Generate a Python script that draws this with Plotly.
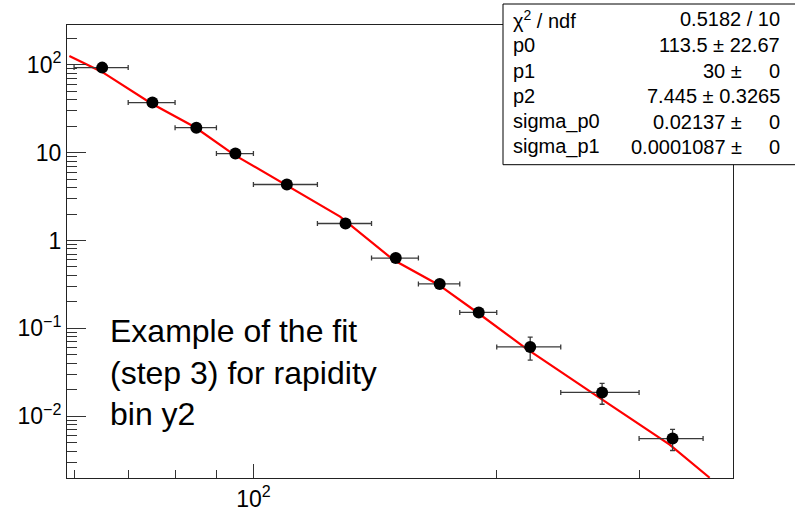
import plotly.graph_objects as go

# ---- data ----
bin_edges = [60, 70, 80, 90, 100, 120, 140, 160, 180, 200, 240, 300, 360]
y_values = [92.5, 37.0, 19.2, 9.74, 4.33, 1.56, 0.631, 0.320, 0.152, 0.0615, 0.0187, 0.00558]
y_errors = [3.0, 1.3, 0.7, 0.35, 0.16, 0.06, 0.026, 0.014, 0.009, 0.018, 0.005, 0.0015]

fit_x = [59.2, 64.9, 74.7, 84.7, 94.7, 108.6, 128.0, 148.9, 169.4, 189.6, 216.9, 263.3, 327.3, 366.8]
fit_y = [125.6, 83.2, 36.4, 19.4, 9.42, 4.49, 1.87, 0.604, 0.314, 0.1496, 0.0599, 0.0181, 0.00477, 0.0020]

y_tickvals = [0.01, 0.1, 1, 10, 100]
y_ticktext = ["10<sup>−2</sup>", "10<sup>−1</sup>", "1", "10", "10<sup>2</sup>"]
x_tickvals = [100]
x_ticktext = ["10<sup>2</sup>"]

stats_labels = ["χ<sup>2</sup> / ndf", "p0", "p1", "p2", "sigma_p0", "sigma_p1"]
stats_values = ["0.5182 / 10", "113.5 ± 22.67", "30 ±", "7.445 ± 0.3265", "0.02137 ±", "0.0001087 ±"]
stats_zero = [False, False, True, False, True, True]

note_text = "Example of the fit<br>(step 3) for rapidity<br>bin y2"

# ---- derived ----
x_centers = [(bin_edges[i] + bin_edges[i + 1]) / 2 for i in range(len(bin_edges) - 1)]
err_plus = [bin_edges[i + 1] - x_centers[i] for i in range(len(x_centers))]
err_minus = [x_centers[i] - bin_edges[i] for i in range(len(x_centers))]

y_minor = []
for e in range(-3, 3):
    for m in range(2, 10):
        y_minor.append(m * 10 ** e)
x_minor = [60, 70, 80, 90, 200, 300]

W, H = 795, 518
L, R, T, B = 67, 62, 25, 40
PW = W - L - R
PH = H - T - B


def px(xp):
    return (xp - L) / PW


def py(yp):
    return (H - B - yp) / PH


FONT = "Liberation Sans, Arial, sans-serif"

fig = go.Figure()
fig.add_trace(go.Scatter(
    x=fit_x, y=fit_y, mode="lines",
    line=dict(color="#ff0000", width=2.2),
    hoverinfo="skip", showlegend=False))
fig.add_trace(go.Scatter(
    x=x_centers, y=y_values, mode="markers",
    marker=dict(color="black", size=12),
    error_x=dict(type="data", array=err_plus, arrayminus=err_minus,
                 color="#3a3a3a", thickness=1.3, width=2.5),
    error_y=dict(type="data", array=y_errors, color="#3a3a3a",
                 thickness=1.3, width=2.5),
    showlegend=False))

fig.update_xaxes(
    type="log", range=[1.7694, 2.5933], automargin=False,
    tickmode="array", tickvals=x_tickvals, ticktext=x_ticktext,
    ticks="inside", ticklen=14, tickwidth=1, tickcolor="#333",
    minor=dict(tickmode="array", tickvals=x_minor, ticks="inside",
               ticklen=8, tickwidth=1, tickcolor="#333", showgrid=False),
    showline=True, linecolor="#222", linewidth=1, mirror=True,
    showgrid=False, zeroline=False,
    tickfont=dict(family=FONT, size=23, color="black"))
fig.update_yaxes(
    type="log", range=[-2.702, 2.451], automargin=False,
    tickmode="array", tickvals=y_tickvals, ticktext=y_ticktext,
    ticks="inside", ticklen=19, tickwidth=1, tickcolor="#333",
    minor=dict(tickmode="array", tickvals=y_minor, ticks="inside",
               ticklen=10, tickwidth=1, tickcolor="#333", showgrid=False),
    showline=True, linecolor="#222", linewidth=1, mirror=True,
    showgrid=False, zeroline=False,
    tickfont=dict(family=FONT, size=23, color="black"))

shapes = [dict(type="rect", xref="paper", yref="paper", layer="above",
               x0=px(503), x1=px(797), y0=py(164.7), y1=py(4),
               line=dict(color="black", width=1), fillcolor="white")]

annotations = []
row_y = [19.3, 45, 70.7, 96, 121.7, 146.7]
SF = 20
for i, lab in enumerate(stats_labels):
    annotations.append(dict(
        x=px(511), y=py(row_y[i]), xref="paper", yref="paper",
        xanchor="left", yanchor="middle", text=lab, showarrow=False,
        font=dict(family=FONT, size=SF, color="black")))
    if stats_zero[i]:
        annotations.append(dict(
            x=px(744), y=py(row_y[i]), xref="paper", yref="paper",
            xanchor="right", yanchor="middle", text=stats_values[i], showarrow=False,
            font=dict(family=FONT, size=SF, color="black")))
        annotations.append(dict(
            x=px(782), y=py(row_y[i]), xref="paper", yref="paper",
            xanchor="right", yanchor="middle", text="0", showarrow=False,
            font=dict(family=FONT, size=SF, color="black")))
    else:
        annotations.append(dict(
            x=px(782), y=py(row_y[i]), xref="paper", yref="paper",
            xanchor="right", yanchor="middle", text=stats_values[i], showarrow=False,
            font=dict(family=FONT, size=SF, color="black")))

annotations.append(dict(
    x=px(108), y=py(372), xref="paper", yref="paper",
    xanchor="left", yanchor="middle", align="left", text=note_text,
    showarrow=False, font=dict(family=FONT, size=32, color="black")))

fig.update_layout(
    width=W, height=H,
    margin=dict(l=L, r=R, t=T, b=B, pad=0),
    paper_bgcolor="white", plot_bgcolor="white",
    shapes=shapes, annotations=annotations,
    font=dict(family=FONT))

fig.write_html("out.html")
